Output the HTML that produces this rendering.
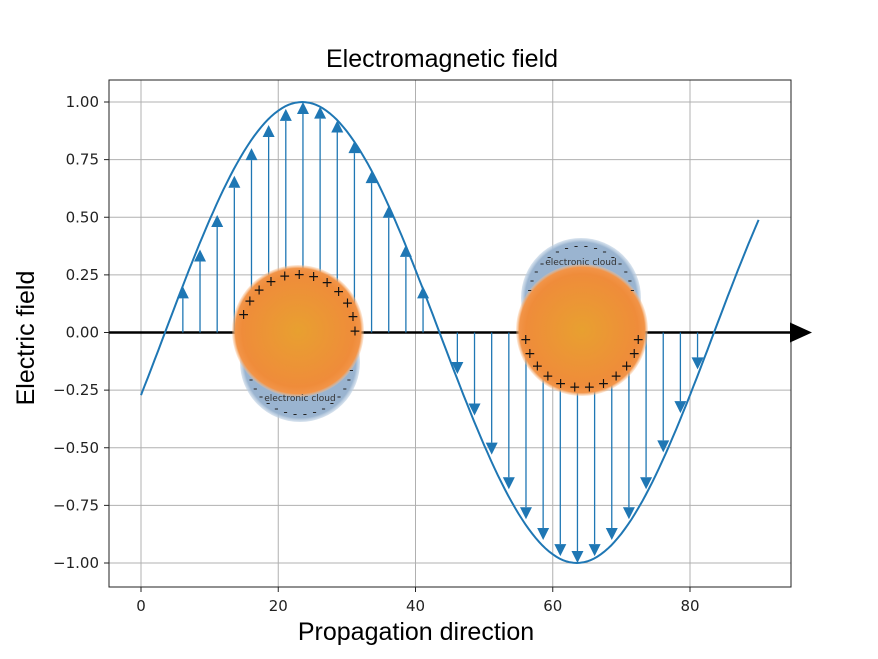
<!DOCTYPE html>
<html><head><meta charset="utf-8"><style>
html,body{margin:0;padding:0;background:#fff}
svg{display:block;font-family:"DejaVu Sans","Liberation Sans",sans-serif}
</style></head><body>
<svg id="chart" width="878" height="659" viewBox="0 0 878 659">
<defs>
<radialGradient id="ball" cx="50%" cy="50%" r="50%">
<stop offset="0" stop-color="#e8a030"/><stop offset="0.85" stop-color="#ef8c3a"/><stop offset="0.95" stop-color="#f29448"/><stop offset="1" stop-color="#f8c090" stop-opacity="0.3"/>
</radialGradient>
<radialGradient id="cloud" cx="50%" cy="50%" r="50%">
<stop offset="0" stop-color="#9ab4d0"/><stop offset="0.93" stop-color="#9ab4d0"/><stop offset="1" stop-color="#c0d2e4" stop-opacity="0.6"/>
</radialGradient>
</defs>
<g id="grid"></g>
<g id="marks"></g>
<rect x="109" y="80" width="682" height="507" fill="none" stroke="#222" stroke-width="1"/>
<g id="ticks"></g>
<text x="442" y="67" font-size="25" text-anchor="middle" font-family="Liberation Sans,sans-serif">Electromagnetic field</text>
<text x="416" y="640" font-size="25" text-anchor="middle" font-family="Liberation Sans,sans-serif">Propagation direction</text>
<text transform="translate(34,338) rotate(-90)" font-size="25" text-anchor="middle" font-family="Liberation Sans,sans-serif">Electric field</text>
</svg>
<script>
const xTicks=[0,20,40,60,80];
const yTicks=[1,0.75,0.5,0.25,0,-0.25,-0.5,-0.75,-1];
const yTickLabels=["1.00","0.75","0.50","0.25","0.00","\u22120.25","\u22120.50","\u22120.75","\u22121.00"];
const arrowX=[6.1,8.6,11.1,13.6,16.1,18.6,21.1,23.6,26.1,28.6,31.1,33.6,36.1,38.6,41.1,46.1,48.6,51.1,53.6,56.1,58.6,61.1,63.6,66.1,68.6,71.1,73.6,76.1,78.6,81.1];
const arrowVals=[0.20,0.36,0.51,0.68,0.80,0.90,0.97,1.00,0.98,0.92,0.83,0.70,0.55,0.38,0.20,-0.18,-0.36,-0.53,-0.68,-0.81,-0.90,-0.97,-1.00,-0.97,-0.90,-0.81,-0.68,-0.52,-0.35,-0.16];
const waveX=[];const waveY=[];
for(let i=0;i<=180;i++){const x=i*0.5;waveX.push(x);waveY.push(Math.sin(2*Math.PI*(x-3.5)/80));}
const NS="http://www.w3.org/2000/svg";
const X=v=>141+v*6.8625, Y=v=>332.5-v*230.5;
function el(t,a,p){const e=document.createElementNS(NS,t);for(const k in a)e.setAttribute(k,a[k]);p.appendChild(e);return e;}
const grid=document.getElementById('grid'),marks=document.getElementById('marks'),ticks=document.getElementById('ticks'),svg=document.getElementById('chart');
xTicks.forEach(t=>{
const g=el('line',{x1:X(t),x2:X(t),y1:80,y2:587,stroke:'#b0b0b0','stroke-width':1},grid);


const tk=el('line',{x1:X(t),x2:X(t),y1:587,y2:592,stroke:'#222'},ticks);


const tx=el('text',{x:X(t),y:611,'font-size':15,'text-anchor':'middle',fill:'#222'},ticks);
tx.textContent=t;


});
yTicks.forEach((t,i)=>{
const g=el('line',{x1:109,x2:791,y1:Y(t),y2:Y(t),stroke:'#b0b0b0','stroke-width':1},grid);


const tk=el('line',{x1:104,x2:109,y1:Y(t),y2:Y(t),stroke:'#222'},ticks);


const tx=el('text',{x:99,y:Y(t)+5,'font-size':15,'text-anchor':'end',fill:'#222'},ticks);
tx.textContent=yTickLabels[i];


});
const ax=el('line',{x1:109,x2:792,y1:Y(0),y2:Y(0),stroke:'#000','stroke-width':2.5},marks);


const ah=el('polygon',{points:`790,${Y(0)-10} 812,${Y(0)} 790,${Y(0)+10}`,fill:'#000'},svg);


arrowX.forEach((x,i)=>{
const v=arrowVals[i],px=X(x),tip=Y(v),dir=v>0?1:-1,base=tip+dir*12;
const l=el('line',{x1:px,x2:px,y1:Y(0),y2:base,stroke:'#1f77b4','stroke-width':1.3},marks);


const h=el('polygon',{points:`${px-6},${base} ${px+6},${base} ${px},${tip}`,fill:'#1f77b4'},marks);


});
const d=waveX.map((x,i)=>(i?'L':'M')+X(x).toFixed(1)+','+Y(waveY[i]).toFixed(1)).join('');
const w=el('path',{d:d,fill:'none',stroke:'#1f77b4','stroke-width':2},marks);


function atom(cx,cy,ccx,ccy,up,name){
const g=el('g',{},svg);


el('circle',{cx:ccx,cy:ccy,r:60,fill:'url(#cloud)'},g);
el('circle',{cx:cx,cy:cy,r:66,fill:'url(#ball)'},g);
const t=el('text',{x:ccx,y:up?ccy+39:ccy-33,'font-size':9,'text-anchor':'middle',fill:'#333'},g);
t.textContent='electronic cloud';
for(let k=0;k<16;k++){const a=(up?1:-1)*(Math.PI*(0.05+0.9*k/15));const mx=ccx+52*Math.cos(a),my=ccy+52*Math.sin(a);
if(Math.hypot(mx-cx,my-cy)<64)continue;
const m=el('text',{x:mx,y:my+4,'font-size':12,'text-anchor':'middle',fill:'#222'},g);m.textContent='-';}
for(let k=0;k<12;k++){const a=(up?-1:1)*(Math.PI*(0.05+0.9*k/11))+(up?0.15:0);
const m=el('text',{x:cx+57*Math.cos(a),y:cy+57*Math.sin(a)+5,'font-size':14,'text-anchor':'middle',fill:'#111'},g);m.textContent='+';}
}
atom(298,331,300,362,true,'left-atom');
atom(582,330,581,298,false,'right-atom');
</script>
</body></html>
